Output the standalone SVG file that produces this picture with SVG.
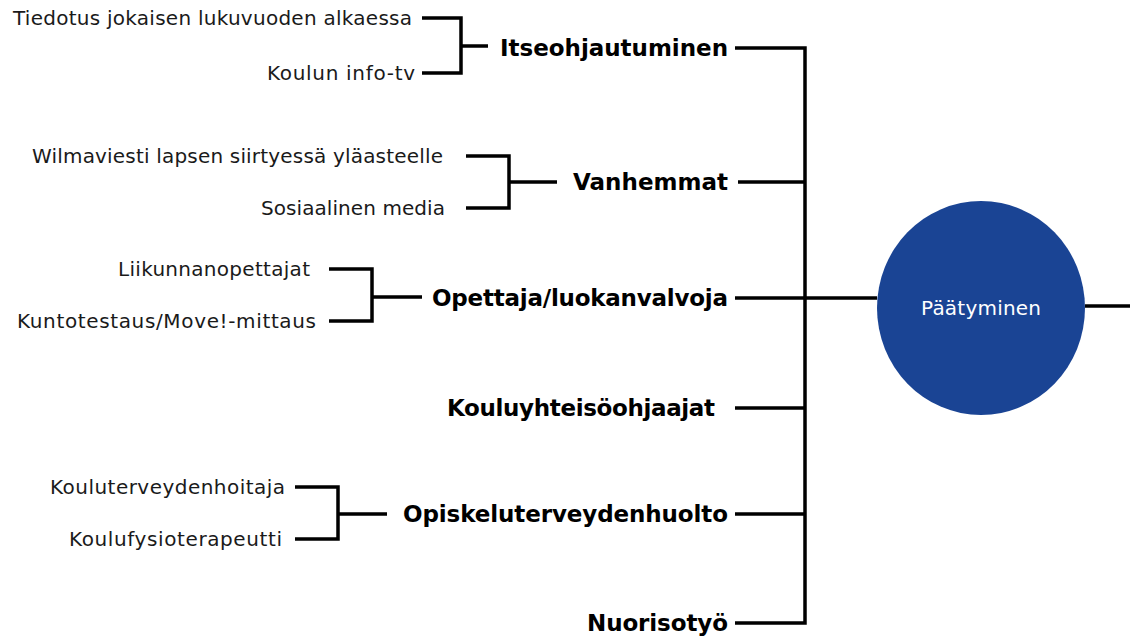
<svg xmlns="http://www.w3.org/2000/svg" width="1130" height="637" viewBox="0 0 1130 637">
<style>
.ln{fill:none;stroke:#000;stroke-width:3.5;stroke-linejoin:miter;stroke-linecap:butt}
.sm{font-family:"DejaVu Sans","Liberation Sans",sans-serif;font-size:20px;fill:#1a1a1a;text-anchor:end}
.bd{font-family:"DejaVu Sans","Liberation Sans",sans-serif;font-size:23px;font-weight:bold;fill:#000;text-anchor:end}
.ct{font-family:"DejaVu Sans","Liberation Sans",sans-serif;font-size:20px;fill:#fff;text-anchor:middle}
</style>
<rect width="1130" height="637" fill="#fff"/>
<g id="connectors">
<path class="ln" d="M735,48 H805 V623 H735"/>
<path class="ln" d="M738,182 H805"/>
<path class="ln" d="M735,298 H877"/>
<path class="ln" d="M735,408 H805"/>
<path class="ln" d="M735,514 H805"/>
<path class="ln" d="M1085,306 H1130"/>
<path class="ln" d="M422,18 H461 V73 H422 M461,46 H488"/>
<path class="ln" d="M466,156 H509 V208 H466 M509,182 H557"/>
<path class="ln" d="M329,269 H372 V321 H329 M372,297 H422"/>
<path class="ln" d="M295,487 H338 V539 H295 M338,514 H387"/>
</g>
<g id="node-paatyminen">
<ellipse cx="981" cy="308" rx="104" ry="107" fill="#1a4494"/>
<text class="ct" x="981" y="315" textLength="120">Päätyminen</text>
</g>
<g id="node-itseohjautuminen">
<text class="bd" x="728" y="56" textLength="228">Itseohjautuminen</text>
</g>
<g id="node-tiedotus"><text class="sm" x="412" y="25" textLength="399">Tiedotus jokaisen lukuvuoden alkaessa</text></g>
<g id="node-infotv"><text class="sm" x="415" y="80" textLength="148">Koulun info-tv</text></g>
<g id="node-vanhemmat"><text class="bd" x="728" y="190" textLength="155">Vanhemmat</text></g>
<g id="node-wilma"><text class="sm" x="443" y="163" textLength="411">Wilmaviesti lapsen siirtyessä yläasteelle</text></g>
<g id="node-some"><text class="sm" x="445" y="215" textLength="184">Sosiaalinen media</text></g>
<g id="node-opettaja"><text class="bd" x="728" y="306" textLength="296">Opettaja/luokanvalvoja</text></g>
<g id="node-liikunta"><text class="sm" x="310" y="276" textLength="192">Liikunnanopettajat</text></g>
<g id="node-kunto"><text class="sm" x="316" y="328" textLength="299">Kuntotestaus/Move!-mittaus</text></g>
<g id="node-kouluyhteiso"><text class="bd" x="715" y="416" textLength="268">Kouluyhteisöohjaajat</text></g>
<g id="node-opiskelu"><text class="bd" x="728" y="522" textLength="325">Opiskeluterveydenhuolto</text></g>
<g id="node-terveydenhoitaja"><text class="sm" x="285" y="494" textLength="235">Kouluterveydenhoitaja</text></g>
<g id="node-fysio"><text class="sm" x="282" y="546" textLength="213">Koulufysioterapeutti</text></g>
<g id="node-nuorisotyo"><text class="bd" x="728" y="631" textLength="141">Nuorisotyö</text></g>
</svg>
